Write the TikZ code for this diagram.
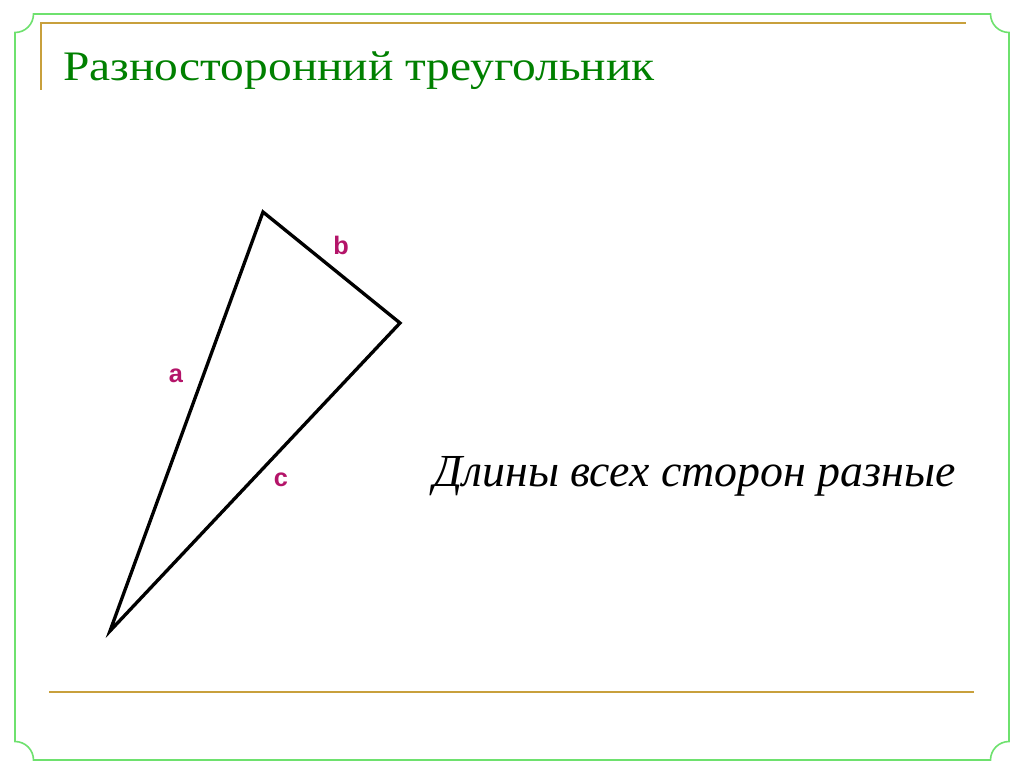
\documentclass[tikz,border=0pt]{standalone}
\usepackage{fontspec}
\setmainfont{Liberation Serif}
\newfontfamily\labfont{Liberation Sans}
\definecolor{frameGreen}{RGB}{110,225,110}
\definecolor{gold}{RGB}{200,160,60}
\definecolor{titleGreen}{RGB}{0,128,0}
\definecolor{labMag}{RGB}{180,20,105}
\begin{document}
\begin{tikzpicture}[x=0.75pt,y=-0.75pt,
  sidelab/.style={font=\labfont\bfseries\fontsize{19}{21}\selectfont, text=labMag, inner sep=0pt},
  edge/.style={line width=2.5pt, line join=miter}]
\useasboundingbox (0,0) rectangle (1024,767);
\fill[white] (0,0) rectangle (1024,767);
% green frame with concave corners
\draw[frameGreen, line width=1.2pt]
  (33.5,14) -- (990.5,14) arc[start angle=180, end angle=90, radius=18.5]
  -- (1009,741.5) arc[start angle=270, end angle=180, radius=18.5]
  -- (33.5,760) arc[start angle=0, end angle=-90, radius=18.5]
  -- (15,32.5) arc[start angle=90, end angle=0, radius=18.5] -- cycle;
% golden rules
\draw[gold, line width=2.2pt] (41,90) -- (41,23) -- (966,23);
\draw[gold, line width=2.2pt] (49,692) -- (974,692);
% title
\node[anchor=base west, inner sep=0pt, text=titleGreen, font=\fontsize{31.5}{36}\selectfont] (title) at (63,80) {\scalebox{1.13}[1]{Разносторонний треугольник}};
% triangle
\coordinate (A) at (263,212);
\coordinate (B) at (400,323);
\coordinate (C) at (110,631);
\draw[edge] (A) -- (B) -- (C) -- cycle;
\node[sidelab] (lb) at (341,245) {b};
\node[sidelab] (la) at (176,376) {a};
\node[sidelab] (lc) at (281,480) {c};
% statement
\node[anchor=base west, inner sep=0pt, font=\itshape\fontsize{34.4}{40}\selectfont] (stmt) at (433,486) {Длины всех сторон разные};
\end{tikzpicture}
\end{document}
